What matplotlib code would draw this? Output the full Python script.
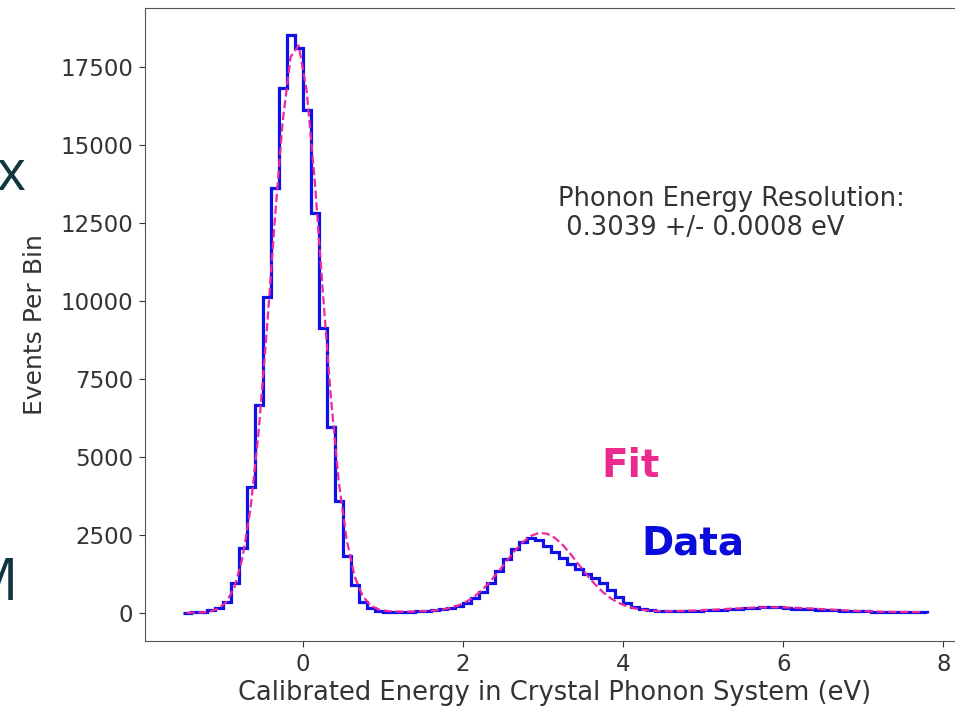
import numpy as np
import matplotlib.pyplot as plt

# histogram of calibrated phonon energy, 0.1 eV bins starting at -1.5 eV
bin_start = -1.5
bin_width = 0.1
counts = [10, 15, 30, 80, 170, 360, 970, 2070, 4030, 6670,
          10150, 13630, 16840, 18550, 18130, 16130, 12830, 9130, 5980, 3590,
          1830, 900, 360, 150, 70, 45, 40, 40, 45, 50,
          60, 80, 110, 160, 230, 320, 470, 680, 960, 1340,
          1720, 2050, 2280, 2400, 2330, 2150, 1960, 1760, 1580, 1420,
          1260, 1120, 950, 740, 520, 330, 190, 110, 80, 70,
          65, 60, 55, 55, 60, 80, 95, 100, 110, 130,
          150, 160, 175, 190, 180, 165, 140, 125, 110, 100,
          95, 90, 75, 60, 55, 50, 35, 30, 25, 25,
          20, 20, 20]

# fit curve, read at the bin centres
fit_y = [5, 8, 20, 50, 140, 360, 840, 1770, 3370, 5800,
         8970, 12530, 15750, 17840, 18210, 16760, 13900, 10380, 6990, 4230,
         2340, 1160, 540, 235, 110, 64, 47, 43, 43, 52,
         62, 80, 113, 166, 248, 369, 537, 758, 1032, 1345,
         1678, 1997, 2275, 2472, 2567, 2542, 2406, 2172, 1874, 1542,
         1216, 918, 665, 464, 315, 210, 141, 98, 72, 58,
         53, 57, 64, 72, 82, 94, 106, 120, 134, 147,
         160, 170, 176, 180, 180, 175, 166, 155, 143, 128,
         114, 99, 85, 72, 62, 53, 46, 40, 35, 32,
         30, 28, 27]

resolution = "Phonon Energy Resolution:\n 0.3039 +/- 0.0008 eV"

edges = bin_start + bin_width * np.arange(len(counts) + 1)
centers = edges[:-1] + bin_width / 2

fig = plt.figure(figsize=(9.55, 7.11), dpi=100)
ax = fig.add_axes([0.1521, 0.0985, 0.858, 0.8903])

ax.stairs(counts, edges, color='#1010e8', linewidth=2.3)
ax.plot(centers, fit_y, '--', color='#f0289a', linewidth=1.6)

ax.set_xlim(-1.965, 8.265)
ax.set_ylim(-900, 19410)
ax.set_xticks([0, 2, 4, 6, 8])
ax.set_yticks(np.arange(0, 17501, 2500))
ax.tick_params(labelsize=16.5, colors='#333333', length=4.5, pad=4)
for s in ax.spines.values():
    s.set_color('#555555')

ax.set_xlabel('Calibrated Energy in Crystal Phonon System (eV)', fontsize=18.5,
              color='#333333', labelpad=3)
ax.set_ylabel('Events Per Bin', fontsize=18, color='#333333', labelpad=10)

ax.text(3.19, 13700, resolution, fontsize=18.5, color='#333333', va='top',
        linespacing=1.15)
ax.text(4.09, 4700, 'Fit', fontsize=28, fontweight='bold', color='#ec2a8e',
        ha='center', va='center')
ax.text(4.87, 2240, 'Data', fontsize=28, fontweight='bold', color='#0b0bdc',
        ha='center', va='center')

# bits of the slide text around the screenshot
fig.text(-0.003, 0.733, 'x', fontsize=40, family='Open Sans', color='#0f3641',
         va='baseline')
fig.text(-0.036, 0.156, 'M', fontsize=42, family='Open Sans', color='#0f3641',
         va='baseline')

fig.savefig('out.png', dpi=100)
